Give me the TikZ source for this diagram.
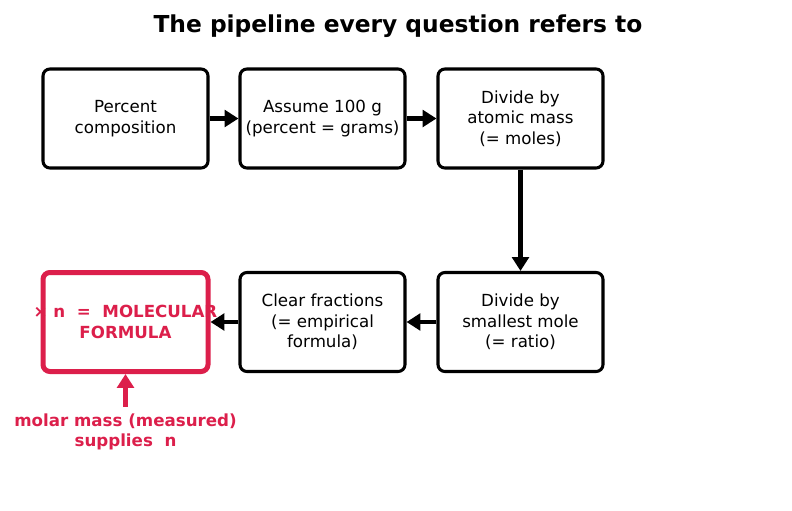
\documentclass[tikz,border=0pt]{standalone}
\usepackage{fontspec}
\setmainfont{DejaVu Sans}
\usetikzlibrary{arrows.meta}
\definecolor{crim}{HTML}{DC1F4B}
\tikzset{
  box/.style={draw=black, line width=2.2pt, rounded corners=5pt, fill=white, minimum width=165*0.72pt, minimum height=99*0.72pt, align=center, font=\fontsize{12}{14.8}\selectfont, inner sep=0pt},
  redbox/.style={draw=crim, line width=3.6pt, rounded corners=5pt, minimum width=165*0.72pt, minimum height=99*0.72pt, inner sep=0pt},
  flow/.style={line width=3.3pt, -{Triangle[length=10pt,width=12pt]}},
  redflow/.style={crim, line width=3.3pt, -{Triangle[length=10pt,width=12pt]}},
}
\begin{document}
\begin{tikzpicture}[x=0.72pt,y=-0.72pt]
\useasboundingbox (0,0) rectangle (792,510);
\node[font=\fontsize{16.8}{20}\selectfont\bfseries] (title) at (398,26) {The pipeline every question refers to};
\node[box] (b1) at (125.5,118.5) {Percent\\composition};
\node[box] (b2) at (322.5,118.5) {Assume 100 g\\(percent = grams)};
\node[box] (b3) at (520.5,118.5) {Divide by\\atomic mass\\(= moles)};
\node[box] (b4) at (520.5,322) {Divide by\\smallest mole\\(= ratio)};
\node[box] (b5) at (322.5,322) {Clear fractions\\(= empirical\\formula)};
\node[fill=white, minimum width=165*0.72pt, minimum height=99*0.72pt, rounded corners=5pt] (b6fill) at (125.5,322) {};
\node[font=\fontsize{12}{14.8}\selectfont\bfseries, text=crim, align=center] (b6text) at (125.5,322) {× n \ = \ MOLECULAR\\FORMULA};
\node[redbox] (b6) at (125.5,322) {};
\node[font=\fontsize{12}{14.8}\selectfont\bfseries, text=crim, align=center] (note) at (125.5,432) {molar mass (measured)\\supplies \ n};
\draw[flow] (b1) -- (b2);
\draw[flow] (b2) -- (b3);
\draw[flow] (b3) -- (b4);
\draw[flow] (b4) -- (b5);
\draw[flow] (b5) -- (b6);
\draw[redflow] (note.north) ++(0,-2) coordinate (nt) (nt) -- (b6.south);
\end{tikzpicture}
\end{document}
